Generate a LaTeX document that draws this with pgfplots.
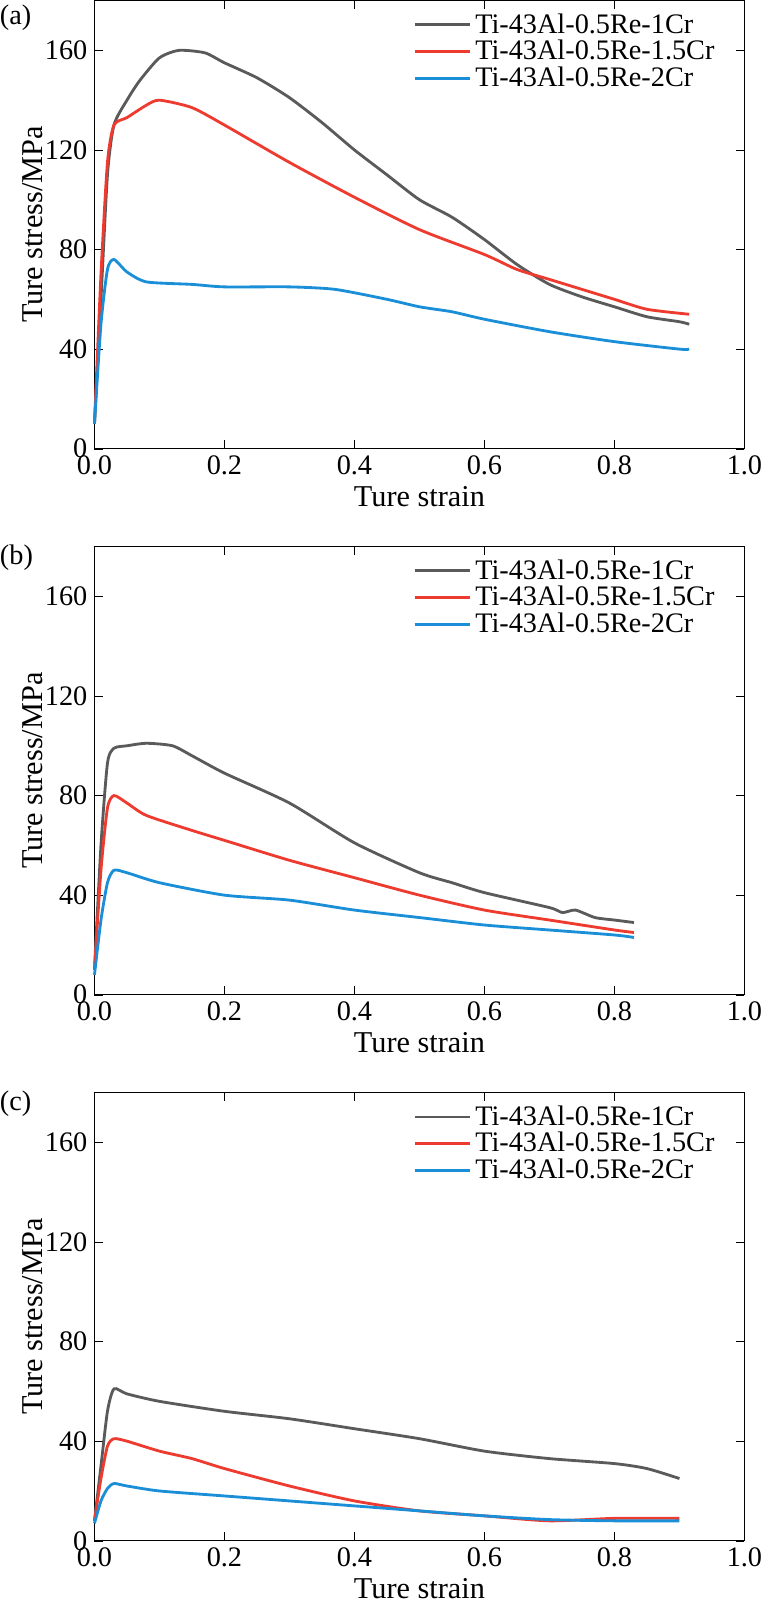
\documentclass[border=0pt]{standalone}
\usepackage{pgfplots}
\pgfplotsset{compat=1.18}
\usepackage{fontspec}
\setmainfont{Liberation Serif}
\definecolor{cg}{HTML}{5A5A5A}
\definecolor{cr}{HTML}{EE3B30}
\definecolor{cb}{HTML}{1A8FD8}
\pgfplotsset{
 myax/.style={scale only axis, width=322pt, height=222pt, xmin=0, xmax=1, ymin=0, ymax=180, clip=false,
  xtick={0,0.2,...,1}, ytick={0,40,...,160},
  xticklabel style={/pgf/number format/fixed,/pgf/number format/fixed zerofill,/pgf/number format/precision=1},
  /pgf/number format/assume math mode=true,
  tick align=inside, tick style={black}, axis line style={black, line width=0.6pt},
  font=\fontsize{14}{16}\selectfont,
  xlabel={Ture strain}, ylabel={Ture stress/MPa},
  xlabel style={yshift=1pt, font=\fontsize{15}{17}\selectfont}, ylabel style={yshift=-6pt, font=\fontsize{15}{17}\selectfont},
  legend style={draw=none, fill=none, at={(0.97,0.99)}, anchor=north east, font=\fontsize{14}{16}\selectfont, row sep=-2pt},
  legend cell align=left,
  legend image post style={xscale=1.6},
  every axis plot/.append style={line width=1.4pt, smooth, tension=0.4},
 }
}
\begin{document}
\begin{tikzpicture}
\begin{axis}[myax, at={(0,541pt)}]
\addplot[cg] coordinates {(0,10)(0.01,60)(0.02,110)(0.03,130)(0.05,140)(0.07,148)(0.1,157)(0.13,160)(0.17,159)(0.2,155)(0.25,149)(0.3,141)(0.35,131)(0.4,120)(0.45,110)(0.5,100)(0.55,93)(0.6,84)(0.65,74)(0.7,66)(0.75,61)(0.8,57)(0.85,53)(0.9,51)(0.915,50)};
\addplot[cr] coordinates {(0,10)(0.01,70)(0.02,115)(0.03,130)(0.05,133)(0.08,138)(0.1,140)(0.15,137)(0.2,130)(0.3,115)(0.4,101)(0.5,88)(0.6,78)(0.65,72)(0.7,68)(0.75,64)(0.8,60)(0.85,56)(0.915,54)};
\addplot[cb] coordinates {(0,10)(0.01,50)(0.02,72)(0.03,76)(0.05,71)(0.08,67)(0.15,66)(0.2,65)(0.3,65)(0.37,64)(0.45,60)(0.5,57)(0.55,55)(0.6,52)(0.7,47)(0.8,43)(0.9,40)(0.915,40)};
\legend{Ti-43Al-0.5Re-1Cr,Ti-43Al-0.5Re-1.5Cr,Ti-43Al-0.5Re-2Cr}
\node[anchor=north west, inner sep=0pt, font=\fontsize{14}{16}\selectfont] at ([xshift=-47pt,yshift=-2pt]rel axis cs:0,1.0) {(a)};
\end{axis}
\begin{axis}[myax, at={(0,270.5pt)}]
\addplot[cg] coordinates {(0,10)(0.01,60)(0.02,93)(0.03,99)(0.05,100)(0.08,101)(0.12,100)(0.15,96)(0.2,89)(0.3,77)(0.4,61)(0.5,49)(0.55,45)(0.6,41)(0.7,35)(0.72,33)(0.74,34)(0.77,31)(0.8,30)(0.83,29)};
\addplot[cr] coordinates {(0,10)(0.01,50)(0.02,75)(0.03,80)(0.05,77)(0.08,72)(0.15,66)(0.2,62)(0.3,54)(0.4,47)(0.5,40)(0.6,34)(0.7,30)(0.8,26)(0.83,25)};
\addplot[cb] coordinates {(0,8)(0.01,30)(0.02,45)(0.03,50)(0.05,49)(0.1,45)(0.2,40)(0.3,38)(0.4,34)(0.5,31)(0.6,28)(0.7,26)(0.8,24)(0.83,23)};
\legend{Ti-43Al-0.5Re-1Cr,Ti-43Al-0.5Re-1.5Cr,Ti-43Al-0.5Re-2Cr}
\node[anchor=south west, inner sep=0pt, font=\fontsize{14}{16}\selectfont] at ([xshift=-47pt,yshift=-12pt]rel axis cs:0,1.0) {(b)};
\end{axis}
\begin{axis}[myax, at={(0,0pt)}]
\addplot[cg] coordinates {(0,8)(0.01,30)(0.02,52)(0.03,61)(0.05,59)(0.1,56)(0.2,52)(0.3,49)(0.4,45)(0.5,41)(0.6,36)(0.7,33)(0.8,31)(0.85,29)(0.9,25)};
\addplot[cr] coordinates {(0,8)(0.01,25)(0.02,38)(0.03,41)(0.05,40)(0.1,36)(0.15,33)(0.2,29)(0.3,22)(0.4,16)(0.5,12)(0.6,10)(0.7,8)(0.8,9)(0.9,9)};
\addplot[cb] coordinates {(0,7)(0.01,16)(0.02,21)(0.03,23)(0.05,22)(0.1,20)(0.2,18)(0.3,16)(0.4,14)(0.5,12)(0.6,10)(0.7,8.5)(0.8,8)(0.9,8)};
\legend{Ti-43Al-0.5Re-1Cr,Ti-43Al-0.5Re-1.5Cr,Ti-43Al-0.5Re-2Cr}
\node[anchor=south west, inner sep=0pt, font=\fontsize{14}{16}\selectfont] at ([xshift=-47pt,yshift=-12pt]rel axis cs:0,1.0) {(c)};
\end{axis}
\end{tikzpicture}
\end{document}
